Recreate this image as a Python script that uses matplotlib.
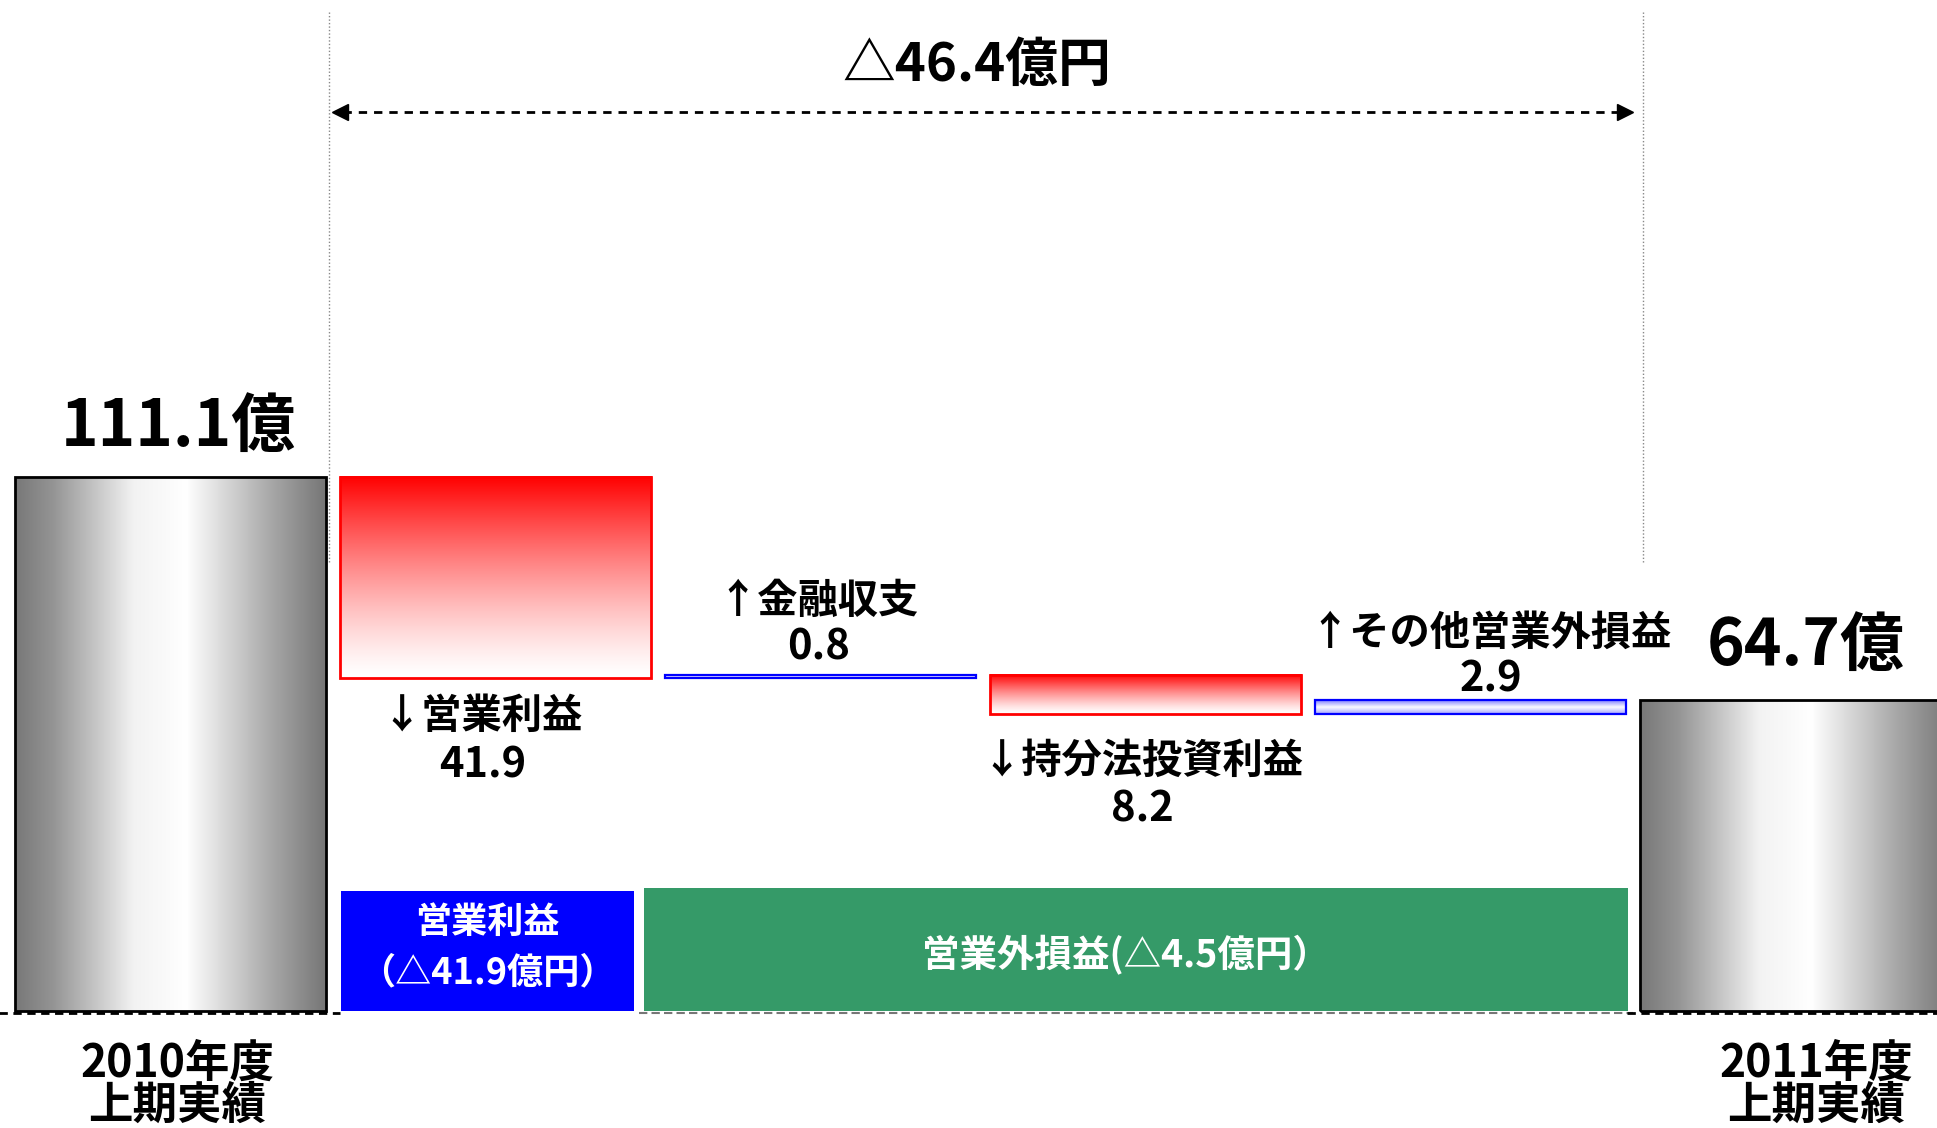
import numpy as np
import matplotlib
matplotlib.use("Agg")
import matplotlib.pyplot as plt
from matplotlib.patches import Rectangle

plt.rcParams['font.family'] = ['Noto Sans CJK JP', 'DejaVu Sans']

# ---------------- data ----------------
categories = ['2010年度\n上期実績', '↓営業利益', '↑金融収支', '↓持分法投資利益',
              '↑その他営業外損益', '2011年度\n上期実績']
values = [111.1, -41.9, 0.8, -8.2, 2.9, 64.7]
value_labels = ['111.1億', '41.9', '0.8', '8.2', '2.9', '64.7億']
total_change_label = '△46.4億円'
group_labels = ['営業利益\n（△41.9億円）', '営業外損益(△4.5億円）']

# ---------------- layout ----------------
W, H = 1937, 1128
fig = plt.figure(figsize=(W / 100, H / 100), dpi=100)
ax = fig.add_axes([0, 0, 1, 1])
ax.set_axis_off()

bar_w = 0.957
xs = np.arange(len(values))

# waterfall bounds
bottoms, tops = [], []
run = 0.0
for i, v in enumerate(values):
    if i == 0 or i == len(values) - 1:
        bottoms.append(0.0); tops.append(v); run = v
    else:
        nxt = run + v
        bottoms.append(min(run, nxt)); tops.append(max(run, nxt)); run = nxt


def grad_img(kind, n=256):
    t = np.linspace(0, 1, n)
    if kind == 'gray':
        g = np.interp(t, [0, 0.12, 0.38, 0.55, 0.82, 1.0],
                      [0.47, 0.58, 0.95, 1.0, 0.66, 0.46])
        img = np.stack([g, g, g], axis=-1)[None, :, :].repeat(2, axis=0)
    elif kind == 'red':
        s = t ** 1.3
        r = np.ones_like(t)
        gb = 1 - s
        img = np.stack([r, gb, gb], axis=-1)[:, None, :].repeat(2, axis=1)
    else:  # blue
        s = np.interp(t, [0, 0.5, 1.0], [0.35, 0.02, 0.5])
        rg = 1 - s
        img = np.stack([rg, rg, np.ones_like(t)], axis=-1)[:, None, :].repeat(2, axis=1)
    return img


for i in range(len(values)):
    x0, x1 = xs[i] - bar_w / 2, xs[i] + bar_w / 2
    y0, y1 = bottoms[i], tops[i]
    if i == 0 or i == len(values) - 1:
        kind, ec, lw = 'gray', 'black', 2.0
    elif values[i] < 0:
        kind, ec, lw = 'red', '#ff0000', 2.0
    else:
        kind, ec, lw = 'blue', '#0000ff', 1.6
    ax.imshow(grad_img(kind), extent=(x0, x1, y0, y1), origin='lower',
              aspect='auto', interpolation='bilinear', zorder=2)
    ax.add_patch(Rectangle((x0, y0), x1 - x0, y1 - y0, fill=False,
                           edgecolor=ec, linewidth=lw, zorder=3))

px = 4.806  # pixels per data unit (vertical)

# totals labels
ax.annotate(value_labels[0], (xs[0], tops[0]), xytext=(8, 50),
            textcoords='offset pixels', ha='center', va='center',
            fontsize=46, fontweight='bold', zorder=5)
ax.annotate(value_labels[-1], (xs[-1], tops[-1]), xytext=(10, 54),
            textcoords='offset pixels', ha='center', va='center',
            fontsize=46, fontweight='bold', zorder=5)

# category labels at the bottom of totals
for i, dx in [(0, 7), (len(values) - 1, 21)]:
    l1, l2 = categories[i].split('\n')
    ax.annotate(l1, (xs[i], 0), xytext=(dx, -53), textcoords='offset pixels',
                ha='center', va='center', fontsize=32, fontweight='bold')
    ax.annotate(l2, (xs[i], 0), xytext=(dx, -95), textcoords='offset pixels',
                ha='center', va='center', fontsize=32, fontweight='bold')

# step labels: (dx, dy_name, dy_value) in pixels relative to bar edge
label_off = {1: (-13, -38, -87), 2: (-2, 73, 27), 3: (-3, -47, -96), 4: (20, 67, 21)}
for i in range(1, len(values) - 1):
    dx, dyn, dyv = label_off[i]
    anchor = bottoms[i] if values[i] < 0 else tops[i]
    ax.annotate(categories[i], (xs[i], anchor), xytext=(dx, dyn),
                textcoords='offset pixels', ha='center', va='center',
                fontsize=29, fontweight='bold')
    ax.annotate(value_labels[i], (xs[i], anchor), xytext=(dx, dyv),
                textcoords='offset pixels', ha='center', va='center',
                fontsize=30, fontweight='bold')

# group boxes
bx0, bx1 = 0.5246, 1.426
ax.add_patch(Rectangle((bx0, 0.0), bx1 - bx0, 25.0,
                       facecolor='#0000ff', edgecolor='none', zorder=2))
ax.text((bx0 + bx1) / 2, 18.4, group_labels[0].split('\n')[0],
        ha='center', va='center', color='white', fontsize=26, fontweight='bold', zorder=4)
ax.text((bx0 + bx1) / 2, 7.9, group_labels[0].split('\n')[1],
        ha='center', va='center', color='white', fontsize=26, fontweight='bold', zorder=4)
gx0, gx1 = 1.457, 4.485
ax.add_patch(Rectangle((gx0, 0.0), gx1 - gx0, 25.6,
                       facecolor='#359a68', edgecolor='none', zorder=2))
ax.text((gx0 + gx1) / 2 - 0.03, 11.6, group_labels[1],
        ha='center', va='center', color='white', fontsize=27, fontweight='bold', zorder=4)

# baseline dashed
ax.plot([-0.6, 0.52], [-0.4, -0.4], color='black', lw=2, ls=(0, (3, 2)), zorder=1)
ax.plot([1.44, 4.5], [-0.4, -0.4], color='#777777', lw=1.5, ls=(0, (4, 2)), zorder=1)
ax.plot([4.48, 5.6], [-0.4, -0.4], color='black', lw=2, ls=(0, (3, 2)), zorder=1)

# vertical dotted guides
for xv in (0.488, 4.53):
    ax.plot([xv, xv], [93.4, 208.0], color='#888888', lw=1, ls=(0, (1, 1.5)), zorder=1)

# double arrow
ya = 187.0
ax.plot([0.53, 4.46], [ya, ya], color='black', lw=2, ls=(0, (3, 2.5)), zorder=3)
ax.plot([0.52], [ya], marker='<', color='black', markersize=11, zorder=3)
ax.plot([4.475], [ya], marker='>', color='black', markersize=11, zorder=3)
ax.text(2.48, 196.8, total_change_label, ha='center', va='center',
        fontsize=38, fontweight='bold')

ax.set_xlim(-170.5 / 325, (W - 170.5) / 325)
ax.set_ylim(-(H - 1011) / px, 1011 / px)

fig.savefig('out.png', dpi=100, facecolor='white')
